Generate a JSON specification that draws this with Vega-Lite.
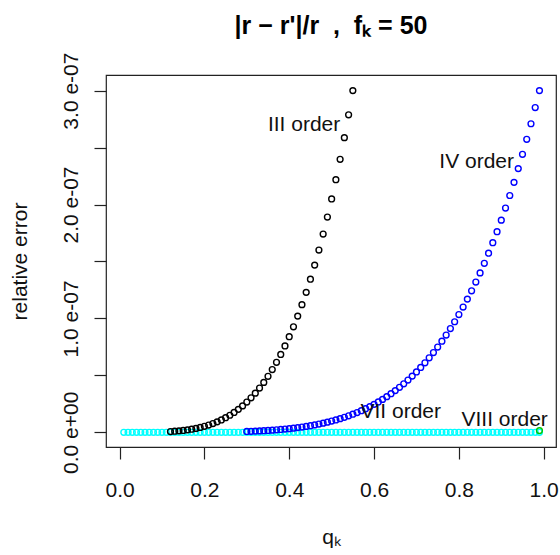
{
  "$schema": "https://vega.github.io/schema/vega-lite/v6.json",
  "autosize": {"type": "none"},
  "padding": {"left": 106, "top": 75, "right": 4, "bottom": 108},
  "width": 450,
  "height": 372,
  "background": "white",
  "config": {
    "view": {"stroke": "#222", "strokeWidth": 1.2},
    "font": "Liberation Sans"
  },
  "title": {
    "text": "|r − r'|/r\u00a0\u00a0,\u00a0\u00a0fₖ = 50",
    "font": "Liberation Sans",
    "fontSize": 25,
    "fontWeight": "bold",
    "color": "#000",
    "anchor": "middle",
    "frame": "group",
    "baseline": "alphabetic",
    "offset": -7
  },
  "datasets": {
    "pts": [
      {"s":"VIII","q":0.01,"e":0},{"s":"VIII","q":0.02,"e":0},{"s":"VIII","q":0.03,"e":0},{"s":"VIII","q":0.04,"e":0},{"s":"VIII","q":0.05,"e":0},
      {"s":"VIII","q":0.06,"e":0},{"s":"VIII","q":0.07,"e":0},{"s":"VIII","q":0.08,"e":0},{"s":"VIII","q":0.09,"e":0},{"s":"VIII","q":0.10,"e":0},
      {"s":"VIII","q":0.11,"e":0},{"s":"VIII","q":0.12,"e":0},{"s":"VIII","q":0.13,"e":0},{"s":"VIII","q":0.14,"e":0},{"s":"VIII","q":0.15,"e":0},
      {"s":"VIII","q":0.16,"e":0},{"s":"VIII","q":0.17,"e":0},{"s":"VIII","q":0.18,"e":0},{"s":"VIII","q":0.19,"e":0},{"s":"VIII","q":0.20,"e":0},
      {"s":"VIII","q":0.21,"e":0},{"s":"VIII","q":0.22,"e":0},{"s":"VIII","q":0.23,"e":0},{"s":"VIII","q":0.24,"e":0},{"s":"VIII","q":0.25,"e":0},
      {"s":"VIII","q":0.26,"e":0},{"s":"VIII","q":0.27,"e":0},{"s":"VIII","q":0.28,"e":0},{"s":"VIII","q":0.29,"e":0},{"s":"VIII","q":0.30,"e":0},
      {"s":"VIII","q":0.31,"e":0},{"s":"VIII","q":0.32,"e":0},{"s":"VIII","q":0.33,"e":0},{"s":"VIII","q":0.34,"e":0},{"s":"VIII","q":0.35,"e":0},
      {"s":"VIII","q":0.36,"e":0},{"s":"VIII","q":0.37,"e":0},{"s":"VIII","q":0.38,"e":0},{"s":"VIII","q":0.39,"e":0},{"s":"VIII","q":0.40,"e":0},
      {"s":"VIII","q":0.41,"e":0},{"s":"VIII","q":0.42,"e":0},{"s":"VIII","q":0.43,"e":0},{"s":"VIII","q":0.44,"e":0},{"s":"VIII","q":0.45,"e":0},
      {"s":"VIII","q":0.46,"e":0},{"s":"VIII","q":0.47,"e":0},{"s":"VIII","q":0.48,"e":0},{"s":"VIII","q":0.49,"e":0},{"s":"VIII","q":0.50,"e":0},
      {"s":"VIII","q":0.51,"e":0},{"s":"VIII","q":0.52,"e":0},{"s":"VIII","q":0.53,"e":0},{"s":"VIII","q":0.54,"e":0},{"s":"VIII","q":0.55,"e":0},
      {"s":"VIII","q":0.56,"e":0},{"s":"VIII","q":0.57,"e":0},{"s":"VIII","q":0.58,"e":0},{"s":"VIII","q":0.59,"e":0},{"s":"VIII","q":0.60,"e":0},
      {"s":"VIII","q":0.61,"e":0},{"s":"VIII","q":0.62,"e":0},{"s":"VIII","q":0.63,"e":0},{"s":"VIII","q":0.64,"e":0},{"s":"VIII","q":0.65,"e":0},
      {"s":"VIII","q":0.66,"e":0},{"s":"VIII","q":0.67,"e":0},{"s":"VIII","q":0.68,"e":0},{"s":"VIII","q":0.69,"e":0},{"s":"VIII","q":0.70,"e":0},
      {"s":"VIII","q":0.71,"e":0},{"s":"VIII","q":0.72,"e":0},{"s":"VIII","q":0.73,"e":0},{"s":"VIII","q":0.74,"e":0},{"s":"VIII","q":0.75,"e":0},
      {"s":"VIII","q":0.76,"e":0},{"s":"VIII","q":0.77,"e":0},{"s":"VIII","q":0.78,"e":0},{"s":"VIII","q":0.79,"e":0},{"s":"VIII","q":0.80,"e":0},
      {"s":"VIII","q":0.81,"e":0},{"s":"VIII","q":0.82,"e":0},{"s":"VIII","q":0.83,"e":0},{"s":"VIII","q":0.84,"e":0},{"s":"VIII","q":0.85,"e":0},
      {"s":"VIII","q":0.86,"e":0},{"s":"VIII","q":0.87,"e":0},{"s":"VIII","q":0.88,"e":0},{"s":"VIII","q":0.89,"e":0},{"s":"VIII","q":0.90,"e":0},
      {"s":"VIII","q":0.91,"e":0},{"s":"VIII","q":0.92,"e":0},{"s":"VIII","q":0.93,"e":0},{"s":"VIII","q":0.94,"e":0},{"s":"VIII","q":0.95,"e":0},
      {"s":"VIII","q":0.96,"e":0},{"s":"VIII","q":0.97,"e":0},{"s":"VIII","q":0.98,"e":0},{"s":"VIII","q":0.99,"e":0},

      {"s":"III","q":0.12,"e":6.8e-10},{"s":"III","q":0.13,"e":9.4e-10},{"s":"III","q":0.14,"e":1.26e-9},{"s":"III","q":0.15,"e":1.66e-9},
      {"s":"III","q":0.16,"e":2.15e-9},{"s":"III","q":0.17,"e":2.74e-9},{"s":"III","q":0.18,"e":3.44e-9},{"s":"III","q":0.19,"e":4.27e-9},
      {"s":"III","q":0.20,"e":5.25e-9},{"s":"III","q":0.21,"e":6.38e-9},{"s":"III","q":0.22,"e":7.68e-9},{"s":"III","q":0.23,"e":9.17e-9},
      {"s":"III","q":0.24,"e":1.088e-8},{"s":"III","q":0.25,"e":1.281e-8},{"s":"III","q":0.26,"e":1.498e-8},{"s":"III","q":0.27,"e":1.742e-8},
      {"s":"III","q":0.28,"e":2.015e-8},{"s":"III","q":0.29,"e":2.319e-8},{"s":"III","q":0.30,"e":2.656e-8},{"s":"III","q":0.31,"e":3.028e-8},
      {"s":"III","q":0.32,"e":3.438e-8},{"s":"III","q":0.33,"e":3.888e-8},{"s":"III","q":0.34,"e":4.381e-8},{"s":"III","q":0.35,"e":4.92e-8},
      {"s":"III","q":0.36,"e":5.507e-8},{"s":"III","q":0.37,"e":6.144e-8},{"s":"III","q":0.38,"e":6.836e-8},{"s":"III","q":0.39,"e":7.585e-8},
      {"s":"III","q":0.40,"e":8.393e-8},{"s":"III","q":0.41,"e":9.264e-8},{"s":"III","q":0.42,"e":1.0202e-7},{"s":"III","q":0.43,"e":1.1209e-7},
      {"s":"III","q":0.44,"e":1.2288e-7},{"s":"III","q":0.45,"e":1.3444e-7},{"s":"III","q":0.46,"e":1.4679e-7},{"s":"III","q":0.47,"e":1.5998e-7},
      {"s":"III","q":0.48,"e":1.7404e-7},{"s":"III","q":0.49,"e":1.89e-7},{"s":"III","q":0.50,"e":2.0491e-7},{"s":"III","q":0.51,"e":2.218e-7},
      {"s":"III","q":0.52,"e":2.3971e-7},{"s":"III","q":0.53,"e":2.5869e-7},{"s":"III","q":0.54,"e":2.7877e-7},{"s":"III","q":0.55,"e":3.0e-7},

      {"s":"IV","q":0.30,"e":7.7e-10},{"s":"IV","q":0.31,"e":9.0e-10},{"s":"IV","q":0.32,"e":1.06e-9},{"s":"IV","q":0.33,"e":1.24e-9},
      {"s":"IV","q":0.34,"e":1.43e-9},{"s":"IV","q":0.35,"e":1.66e-9},{"s":"IV","q":0.36,"e":1.91e-9},{"s":"IV","q":0.37,"e":2.19e-9},
      {"s":"IV","q":0.38,"e":2.5e-9},{"s":"IV","q":0.39,"e":2.85e-9},{"s":"IV","q":0.40,"e":3.23e-9},{"s":"IV","q":0.41,"e":3.65e-9},
      {"s":"IV","q":0.42,"e":4.12e-9},{"s":"IV","q":0.43,"e":4.64e-9},{"s":"IV","q":0.44,"e":5.2e-9},{"s":"IV","q":0.45,"e":5.82e-9},
      {"s":"IV","q":0.46,"e":6.5e-9},{"s":"IV","q":0.47,"e":7.23e-9},{"s":"IV","q":0.48,"e":8.04e-9},{"s":"IV","q":0.49,"e":8.91e-9},
      {"s":"IV","q":0.50,"e":9.86e-9},{"s":"IV","q":0.51,"e":1.088e-8},{"s":"IV","q":0.52,"e":1.199e-8},{"s":"IV","q":0.53,"e":1.319e-8},
      {"s":"IV","q":0.54,"e":1.448e-8},{"s":"IV","q":0.55,"e":1.588e-8},{"s":"IV","q":0.56,"e":1.737e-8},{"s":"IV","q":0.57,"e":1.898e-8},
      {"s":"IV","q":0.58,"e":2.071e-8},{"s":"IV","q":0.59,"e":2.255e-8},{"s":"IV","q":0.60,"e":2.453e-8},{"s":"IV","q":0.61,"e":2.664e-8},
      {"s":"IV","q":0.62,"e":2.89e-8},{"s":"IV","q":0.63,"e":3.131e-8},{"s":"IV","q":0.64,"e":3.387e-8},{"s":"IV","q":0.65,"e":3.66e-8},
      {"s":"IV","q":0.66,"e":3.951e-8},{"s":"IV","q":0.67,"e":4.259e-8},{"s":"IV","q":0.68,"e":4.587e-8},{"s":"IV","q":0.69,"e":4.934e-8},
      {"s":"IV","q":0.70,"e":5.302e-8},{"s":"IV","q":0.71,"e":5.692e-8},{"s":"IV","q":0.72,"e":6.104e-8},{"s":"IV","q":0.73,"e":6.54e-8},
      {"s":"IV","q":0.74,"e":7.0e-8},{"s":"IV","q":0.75,"e":7.486e-8},{"s":"IV","q":0.76,"e":7.999e-8},{"s":"IV","q":0.77,"e":8.539e-8},
      {"s":"IV","q":0.78,"e":9.108e-8},{"s":"IV","q":0.79,"e":9.707e-8},{"s":"IV","q":0.80,"e":1.0337e-7},{"s":"IV","q":0.81,"e":1.1e-7},
      {"s":"IV","q":0.82,"e":1.1695e-7},{"s":"IV","q":0.83,"e":1.2426e-7},{"s":"IV","q":0.84,"e":1.3193e-7},{"s":"IV","q":0.85,"e":1.3997e-7},
      {"s":"IV","q":0.86,"e":1.484e-7},{"s":"IV","q":0.87,"e":1.5723e-7},{"s":"IV","q":0.88,"e":1.6648e-7},{"s":"IV","q":0.89,"e":1.7615e-7},
      {"s":"IV","q":0.90,"e":1.8628e-7},{"s":"IV","q":0.91,"e":1.9686e-7},{"s":"IV","q":0.92,"e":2.0791e-7},{"s":"IV","q":0.93,"e":2.1946e-7},
      {"s":"IV","q":0.94,"e":2.3152e-7},{"s":"IV","q":0.95,"e":2.441e-7},{"s":"IV","q":0.96,"e":2.5722e-7},{"s":"IV","q":0.97,"e":2.709e-7},
      {"s":"IV","q":0.98,"e":2.8515e-7},{"s":"IV","q":0.99,"e":3.0e-7},

      {"s":"VII","q":0.99,"e":1.5e-9}
    ],
    "labels": [
      {"label":"III order","q":0.435,"e":2.70e-7},
      {"label":"IV order","q":0.842,"e":2.37e-7},
      {"label":"VII order","q":0.663,"e":1.75e-8},
      {"label":"VIII order","q":0.908,"e":1.05e-8}
    ]
  },
  "layer": [
    {
      "data": {"name": "pts"},
      "mark": {"type": "point", "shape": "circle", "filled": false, "size": 34, "strokeWidth": 1.4, "opacity": 1},
      "encoding": {
        "x": {
          "field": "q", "type": "quantitative",
          "scale": {"domain": [-0.032, 1.029], "nice": false, "zero": false},
          "axis": {
            "title": "qₖ",
            "values": [0, 0.2, 0.4, 0.6, 0.8, 1.0],
            "format": ".1f",
            "grid": false, "domain": false,
            "tickSize": 12, "tickColor": "#222", "tickWidth": 1.2,
            "labelFontSize": 21, "labelColor": "#111", "labelPadding": 20, "labelFont": "Liberation Sans",
            "titleFontSize": 21, "titleFontWeight": "normal", "titleColor": "#111", "titlePadding": 26, "titleFont": "Liberation Sans"
          }
        },
        "y": {
          "field": "e", "type": "quantitative",
          "scale": {"domain": [-1.29e-8, 3.137e-7], "nice": false, "zero": false},
          "axis": {
            "title": "relative error",
            "values": [0, 5e-8, 1e-7, 1.5e-7, 2e-7, 2.5e-7, 3e-7],
            "labelExpr": "abs(round(datum.value*2e7)) % 2 == 0 ? (datum.value == 0 ? '0.0 e+00' : format(datum.value*1e7, '.1f') + ' e-07') : ''",
            "grid": false, "domain": false,
            "tickSize": 12, "tickColor": "#222", "tickWidth": 1.2,
            "labelAngle": -90, "labelAlign": "center", "labelBaseline": "bottom",
            "labelFontSize": 21, "labelColor": "#111", "labelPadding": 13, "labelFont": "Liberation Sans",
            "labelOverlap": false,
            "titleFontSize": 21, "titleFontWeight": "normal", "titleColor": "#111", "titlePadding": 30, "titleFont": "Liberation Sans"
          }
        },
        "color": {
          "field": "s", "type": "nominal",
          "scale": {"domain": ["III", "IV", "VII", "VIII"], "range": ["#000000", "#0000ff", "#00c800", "#00ffff"]},
          "legend": null
        }
      }
    },
    {
      "data": {"name": "labels"},
      "mark": {"type": "text", "fontSize": 21, "font": "Liberation Sans", "color": "#111", "align": "center", "baseline": "middle"},
      "encoding": {
        "x": {"field": "q", "type": "quantitative"},
        "y": {"field": "e", "type": "quantitative"},
        "text": {"field": "label", "type": "nominal"}
      }
    }
  ]
}
